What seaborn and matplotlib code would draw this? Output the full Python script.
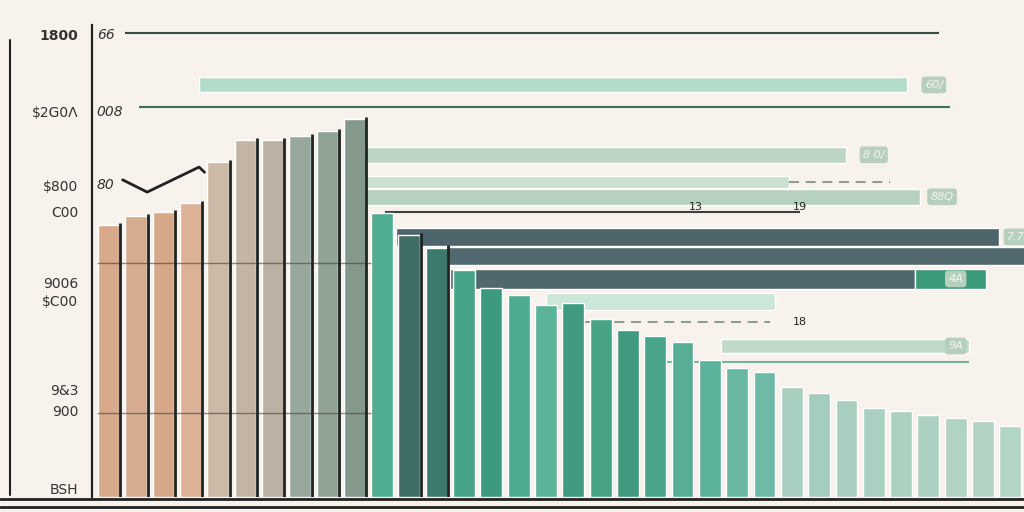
import numpy as np
import pandas as pd
import seaborn as sns
import matplotlib.pyplot as plt
from matplotlib.lines import Line2D

# vertical bars (left to right)
bar_values = [576, 595, 604, 623, 710, 756, 756, 765, 775, 801,
              602, 555, 528, 481, 443, 428, 407, 411, 377, 354,
              341, 328, 290, 273, 265, 233, 220, 206, 189, 182,
              174, 167, 161, 150]
bar_colors = ['#d8a98a', '#d6ab90', '#d7a887', '#dcb196', '#cdb9a8',
              '#c3b4a4', '#bdb1a3', '#97a89c', '#8fa394', '#84998c',
              '#4ead90', '#3f6e68', '#3c7a6e', '#46a387', '#3e9a7e',
              '#4fab8f', '#5bb39a', '#3f9a80', '#47a286', '#3f9a80',
              '#4aa489', '#57ae94', '#5cb39b', '#6ab8a1', '#6fbaa7',
              '#a8cfc0', '#a5cdbd', '#a8cfbf', '#a9d0c0', '#abd1c1',
              '#acd1c2', '#b0d3c4', '#b0d3c4', '#b3d5c6']
categories = [f'c{i}' for i in range(len(bar_values))]

# background horizontal bars: level, start, end (category units), thickness
hbar_levels = [873, 725, 667, 636, 551, 511, 462, 462, 415, 320]
hbar_starts = [3.3, 9.2, 9.2, 9.2, 10.5, 12.1, 12.5, 29.5, 16.0, 22.4]
hbar_ends = [29.2, 27.0, 24.9, 29.7, 32.6, 33.6, 29.5, 32.1, 24.4, 31.5]
hbar_heights = [32, 34, 26, 34, 38, 38, 44, 44, 36, 28]
hbar_colors = ['#b3dccb', '#bcd6c3', '#c8e2cf', '#b6d2be', '#4d646a',
               '#51696f', '#4f676d', '#3a9a7a', '#cce6da', '#c0dac8']

# thin horizontal lines
line_levels = [983, 826, 604, 286]
line_starts = [0.6, 1.1, 10.1, 20.4]
line_ends = [30.4, 30.8, 25.3, 31.5]
line_colors = ['#3d4a44', '#3f6f5d', '#3b4043', '#6fb7a0']

# dashed lines
dash_levels = [667, 371]
dash_starts = [24.9, 17.3]
dash_ends = [28.6, 24.2]

# end labels of the horizontal bars
end_label_x = [30.2, 28.0, 30.5, 33.2, 31.0, 31.0]
end_label_y = [873, 725, 636, 551, 462, 320]
end_label_text = ['60/', '8 0/', '88Q', '7.7', '4A', '9A']

# small trend stroke
trend_x = [0.5, 1.4, 3.3, 3.5]
trend_y = [672, 646, 699, 688]

ytick_pos = [979, 816, 661, 604, 455, 417, 227, 184, 19]
ytick_labels = ['1800', '$2G0Λ', '$800', 'C00', '9006', '$C00', '9&3', '900', 'BSH']
inner_labels = ['66', '008', '80']
inner_pos = [979, 816, 661]

bg = '#f8f2ec'
sns.set_theme(style='white')
plt.rcParams['font.family'] = ['DejaVu Sans']

fig = plt.figure(figsize=(10.24, 5.12), dpi=100, facecolor=bg)
ax = fig.add_axes([92 / 1024, 15 / 512, 932 / 1024, 472 / 512])
ax.set_facecolor(bg)

# background horizontal bars
ax.barh(hbar_levels, np.array(hbar_ends) - np.array(hbar_starts), left=hbar_starts,
        height=hbar_heights, color=hbar_colors, zorder=1)
ax.hlines(line_levels, line_starts, line_ends, colors=line_colors, lw=1.5, zorder=1)
ax.hlines(dash_levels, dash_starts, dash_ends, colors='#7d8a82', lw=1.2,
          linestyles=(0, (6, 4)), zorder=1)
for x, y, t in zip(end_label_x, end_label_y, end_label_text):
    ax.text(x, y, t, fontsize=8, style='italic', color='#f4f4ee', ha='center', va='center',
            bbox=dict(boxstyle='round,pad=0.3', fc='#b6d0bd', ec='none'), zorder=2)
ax.text(21.5, 604, '13', fontsize=8, color='#222222', ha='center', va='bottom', zorder=2)
ax.text(25.3, 604, '19', fontsize=8, color='#222222', ha='center', va='bottom', zorder=2)
ax.text(25.3, 371, '18', fontsize=8, color='#222222', ha='center', va='center', zorder=2)

df = pd.DataFrame({'cat': categories, 'value': bar_values})
sns.barplot(data=df, x='cat', y='value', hue='cat', palette=bar_colors, legend=False,
            width=0.8, edgecolor='white', linewidth=1, saturation=1, ax=ax, zorder=3)

# dark grid lines across the left bars
ax.hlines([496, 178], -0.45, 9.6, colors='#4a3f38', lw=1, alpha=0.6, zorder=4)

# dark right edges on the first bars
edge_idx = list(range(10)) + [11, 12]
ax.vlines([i + 0.42 for i in edge_idx], 0, [bar_values[i] + 5 for i in edge_idx],
          colors='#1e2422', lw=2, zorder=4)

ax.plot(trend_x, trend_y, color='#222222', lw=2, zorder=5)

ax.set_xlim(-0.62, 33.5)
ax.set_ylim(0, 1000)
ax.set_xticks([])
ax.set_yticks(ytick_pos)
ax.set_yticklabels(ytick_labels, fontsize=10, color='#333333')
ax.get_yticklabels()[0].set_fontweight('bold')
ax.tick_params(axis='y', length=0, pad=10)
ax.set_xlabel('')
ax.set_ylabel('')
for t, y in zip(inner_labels, inner_pos):
    ax.text(-0.45, y, t, fontsize=10, style='italic', color='#333333', va='center', zorder=6)

sns.despine(ax=ax, top=True, right=True, bottom=True)
ax.spines['left'].set_color('#222222')
ax.spines['left'].set_linewidth(1.6)

# extra frame lines
fig.add_artist(Line2D([10 / 1024, 10 / 1024], [17 / 512, 472 / 512], color='#222222', lw=1.5))
fig.add_artist(Line2D([0, 1], [13 / 512, 13 / 512], color='#222222', lw=2))
fig.add_artist(Line2D([0, 1], [5 / 512, 5 / 512], color='#222222', lw=2))

fig.savefig('out.png', dpi=100, facecolor=bg)
